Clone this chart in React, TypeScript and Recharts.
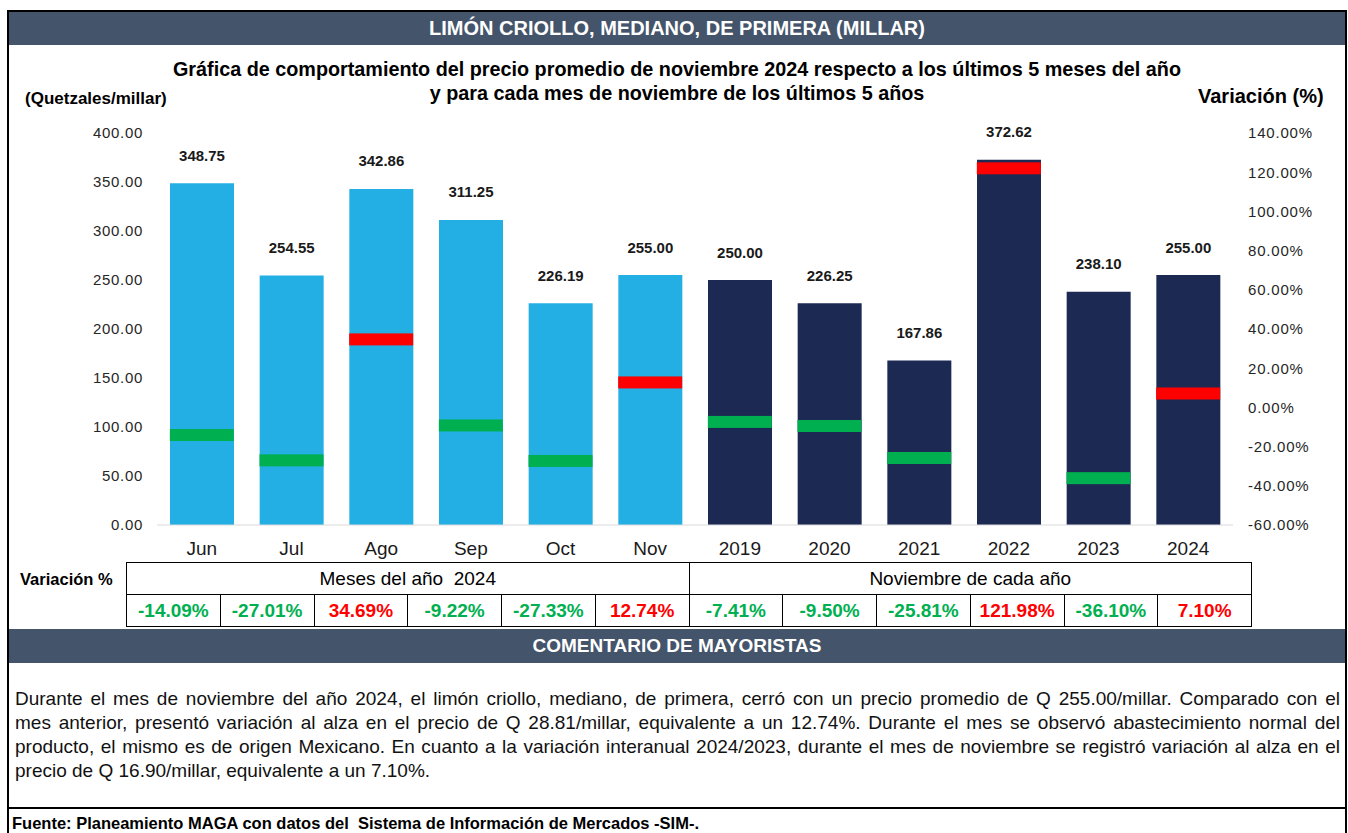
import { Bar, Cell, ComposedChart, Line, XAxis, YAxis } from 'recharts'

const categorias = ['Jun', 'Jul', 'Ago', 'Sep', 'Oct', 'Nov', '2019', '2020', '2021', '2022', '2023', '2024']
const precios = [348.75, 254.55, 342.86, 311.25, 226.19, 255.0, 250.0, 226.25, 167.86, 372.62, 238.1, 255.0]
const variaciones = [-14.09, -27.01, 34.69, -9.22, -27.33, 12.74, -7.41, -9.5, -25.81, 121.98, -36.1, 7.1]
const grupos = ['mes', 'mes', 'mes', 'mes', 'mes', 'mes', 'anio', 'anio', 'anio', 'anio', 'anio', 'anio']
const ticksPrecio = [0, 50, 100, 150, 200, 250, 300, 350, 400]
const ticksVariacion = [-60, -40, -20, 0, 20, 40, 60, 80, 100, 120, 140]

const parrafo = [
  'Durante el mes de noviembre del año 2024, el limón criollo, mediano, de primera, cerró con un precio promedio de Q 255.00/millar. Comparado con el',
  'mes anterior, presentó variación al alza en el precio de Q 28.81/millar, equivalente a un 12.74%. Durante el mes se observó abastecimiento normal del',
  'producto, el mismo es de origen Mexicano. En cuanto a la variación interanual 2024/2023, durante el mes de noviembre se registró variación al alza en el',
  'precio de Q 16.90/millar, equivalente a un 7.10%.',
]

const data = categorias.map((c, i) => ({
  categoria: c,
  precio: precios[i],
  variacion: variaciones[i],
  grupo: grupos[i],
}))

const SANS = '"Liberation Sans", Arial, sans-serif'
const NARROW = '"Liberation Sans Narrow", "Arial Narrow", "Liberation Sans", sans-serif'
const BAR_CLARO = '#23AFE3'
const BAR_OSCURO = '#1C2953'
const VERDE = '#00B050'
const ROJO = '#FF0000'
const SLATE = '#44546A'

const colorVar = (v: number) => (v < 0 ? VERDE : ROJO)

function ValorLabel(props: any) {
  const { x, y, width, value } = props
  return (
    <text
      x={x + width / 2}
      y={y - 28}
      textAnchor="middle"
      dominantBaseline="central"
      fontFamily={SANS}
      fontWeight="bold"
      fontSize={15}
      fill="#1a1a1a"
    >
      {Number(value).toFixed(2)}
    </text>
  )
}

function Marcador(props: any) {
  const { cx, cy, index, value } = props
  if (cx == null || cy == null) return <g key={index} />
  return <rect key={index} x={cx - 32} y={cy - 6} width={64} height={12} fill={colorVar(value)} />
}

const celda: React.CSSProperties = {
  border: '1px solid #000',
  height: 31,
  padding: 0,
  textAlign: 'center',
  verticalAlign: 'middle',
}

export default function App() {
  return (
    <div
      style={{
        position: 'absolute',
        left: 0,
        top: 0,
        width: 1348,
        height: 833,
        background: '#fff',
        overflow: 'hidden',
        fontFamily: SANS,
        color: '#000',
      }}
    >
      <div
        style={{
          position: 'absolute',
          left: 7,
          top: 10,
          width: 1340,
          height: 900,
          border: '2px solid #000',
          boxSizing: 'border-box',
        }}
      />
      <div
        style={{
          position: 'absolute',
          left: 9,
          top: 12,
          width: 1336,
          height: 33,
          background: SLATE,
          color: '#fff',
          fontWeight: 'bold',
          fontSize: 20,
          lineHeight: '33px',
          textAlign: 'center',
        }}
      >
        LIMÓN CRIOLLO, MEDIANO, DE PRIMERA (MILLAR)
      </div>

      <div
        style={{
          position: 'absolute',
          left: 0,
          top: 57,
          width: 1354,
          textAlign: 'center',
          fontWeight: 'bold',
          fontSize: 19.8,
          lineHeight: '24px',
        }}
      >
        Gráfica de comportamiento del precio promedio de noviembre 2024 respecto a los últimos 5 meses del año
        <br />y para cada mes de noviembre de los últimos 5 años
      </div>
      <div style={{ position: 'absolute', left: 25, top: 89, fontWeight: 'bold', fontSize: 17, lineHeight: '20px' }}>
        (Quetzales/millar)
      </div>
      <div style={{ position: 'absolute', left: 1198, top: 85, fontWeight: 'bold', fontSize: 20, lineHeight: '22px' }}>
        Variación (%)
      </div>

      <div style={{ position: 'absolute', left: 0, top: 0 }}>
        <ComposedChart width={1348} height={570} data={data} margin={{ top: 133, right: 15, bottom: 5, left: 0 }}>
          <XAxis
            dataKey="categoria"
            height={40}
            axisLine={{ stroke: '#D9D9D9' }}
            tickLine={false}
            tickMargin={11}
            interval={0}
            tick={{ fontSize: 19, fill: '#1a1a1a', fontFamily: NARROW }}
          />
          <YAxis
            yAxisId="left"
            width={157}
            domain={[0, 400]}
            ticks={ticksPrecio}
            axisLine={false}
            tickLine={false}
            tickMargin={8}
            tickFormatter={(v: number) => v.toFixed(2)}
            tick={{ fontSize: 15, fill: '#262626', fontFamily: SANS, letterSpacing: 0.7 }}
          />
          <YAxis
            yAxisId="right"
            orientation="right"
            width={100}
            domain={[-60, 140]}
            ticks={ticksVariacion}
            axisLine={false}
            tickLine={false}
            tickMargin={9}
            tickFormatter={(v: number) => v.toFixed(2) + '%'}
            tick={{ fontSize: 15, fill: '#262626', fontFamily: SANS, letterSpacing: 0.8, textAnchor: 'start' }}
          />
          <Bar yAxisId="left" dataKey="precio" barSize={64} isAnimationActive={false} label={<ValorLabel />}>
            {data.map((d) => (
              <Cell key={d.categoria} fill={d.grupo === 'mes' ? BAR_CLARO : BAR_OSCURO} />
            ))}
          </Bar>
          <Line
            yAxisId="right"
            dataKey="variacion"
            stroke="none"
            dot={<Marcador />}
            activeDot={false}
            legendType="none"
            isAnimationActive={false}
          />
        </ComposedChart>
      </div>

      <div style={{ position: 'absolute', left: 20, top: 569, fontWeight: 'bold', fontSize: 16.5, lineHeight: '20px' }}>
        Variación %
      </div>
      <table
        style={{
          position: 'absolute',
          left: 126,
          top: 562,
          width: 1126,
          borderCollapse: 'collapse',
          tableLayout: 'fixed',
          fontFamily: NARROW,
        }}
      >
        <tbody>
          <tr>
            <td colSpan={6} style={{ ...celda, fontSize: 19, whiteSpace: 'pre' }}>
              Meses del año  2024
            </td>
            <td colSpan={6} style={{ ...celda, fontSize: 19 }}>
              Noviembre de cada año
            </td>
          </tr>
          <tr>
            {variaciones.map((v, i) => (
              <td key={i} style={{ ...celda, fontSize: 19, fontWeight: 'bold', color: colorVar(v) }}>
                {v.toFixed(2)}%
              </td>
            ))}
          </tr>
        </tbody>
      </table>

      <div
        style={{
          position: 'absolute',
          left: 9,
          top: 629,
          width: 1336,
          height: 34,
          background: SLATE,
          color: '#fff',
          fontWeight: 'bold',
          fontSize: 19,
          lineHeight: '34px',
          textAlign: 'center',
        }}
      >
        COMENTARIO DE MAYORISTAS
      </div>

      <div
        style={{
          position: 'absolute',
          left: 15,
          top: 687,
          width: 1325,
          fontFamily: NARROW,
          fontSize: 19,
          lineHeight: '24px',
          color: '#111',
        }}
      >
        {parrafo.map((l, i) => (
          <div
            key={i}
            style={{
              whiteSpace: 'nowrap',
              textAlign: 'justify',
              textAlignLast: i < parrafo.length - 1 ? 'justify' : 'left',
            }}
          >
            {l}
          </div>
        ))}
      </div>

      <div style={{ position: 'absolute', left: 9, top: 807, width: 1336, height: 2, background: '#000' }} />
      <div
        style={{
          position: 'absolute',
          left: 12,
          top: 815,
          fontFamily: NARROW,
          fontWeight: 'bold',
          fontSize: 16.5,
          lineHeight: '17px',
          whiteSpace: 'pre',
        }}
      >
        Fuente: Planeamiento MAGA con datos del  Sistema de Información de Mercados -SIM-.
      </div>
    </div>
  )
}
